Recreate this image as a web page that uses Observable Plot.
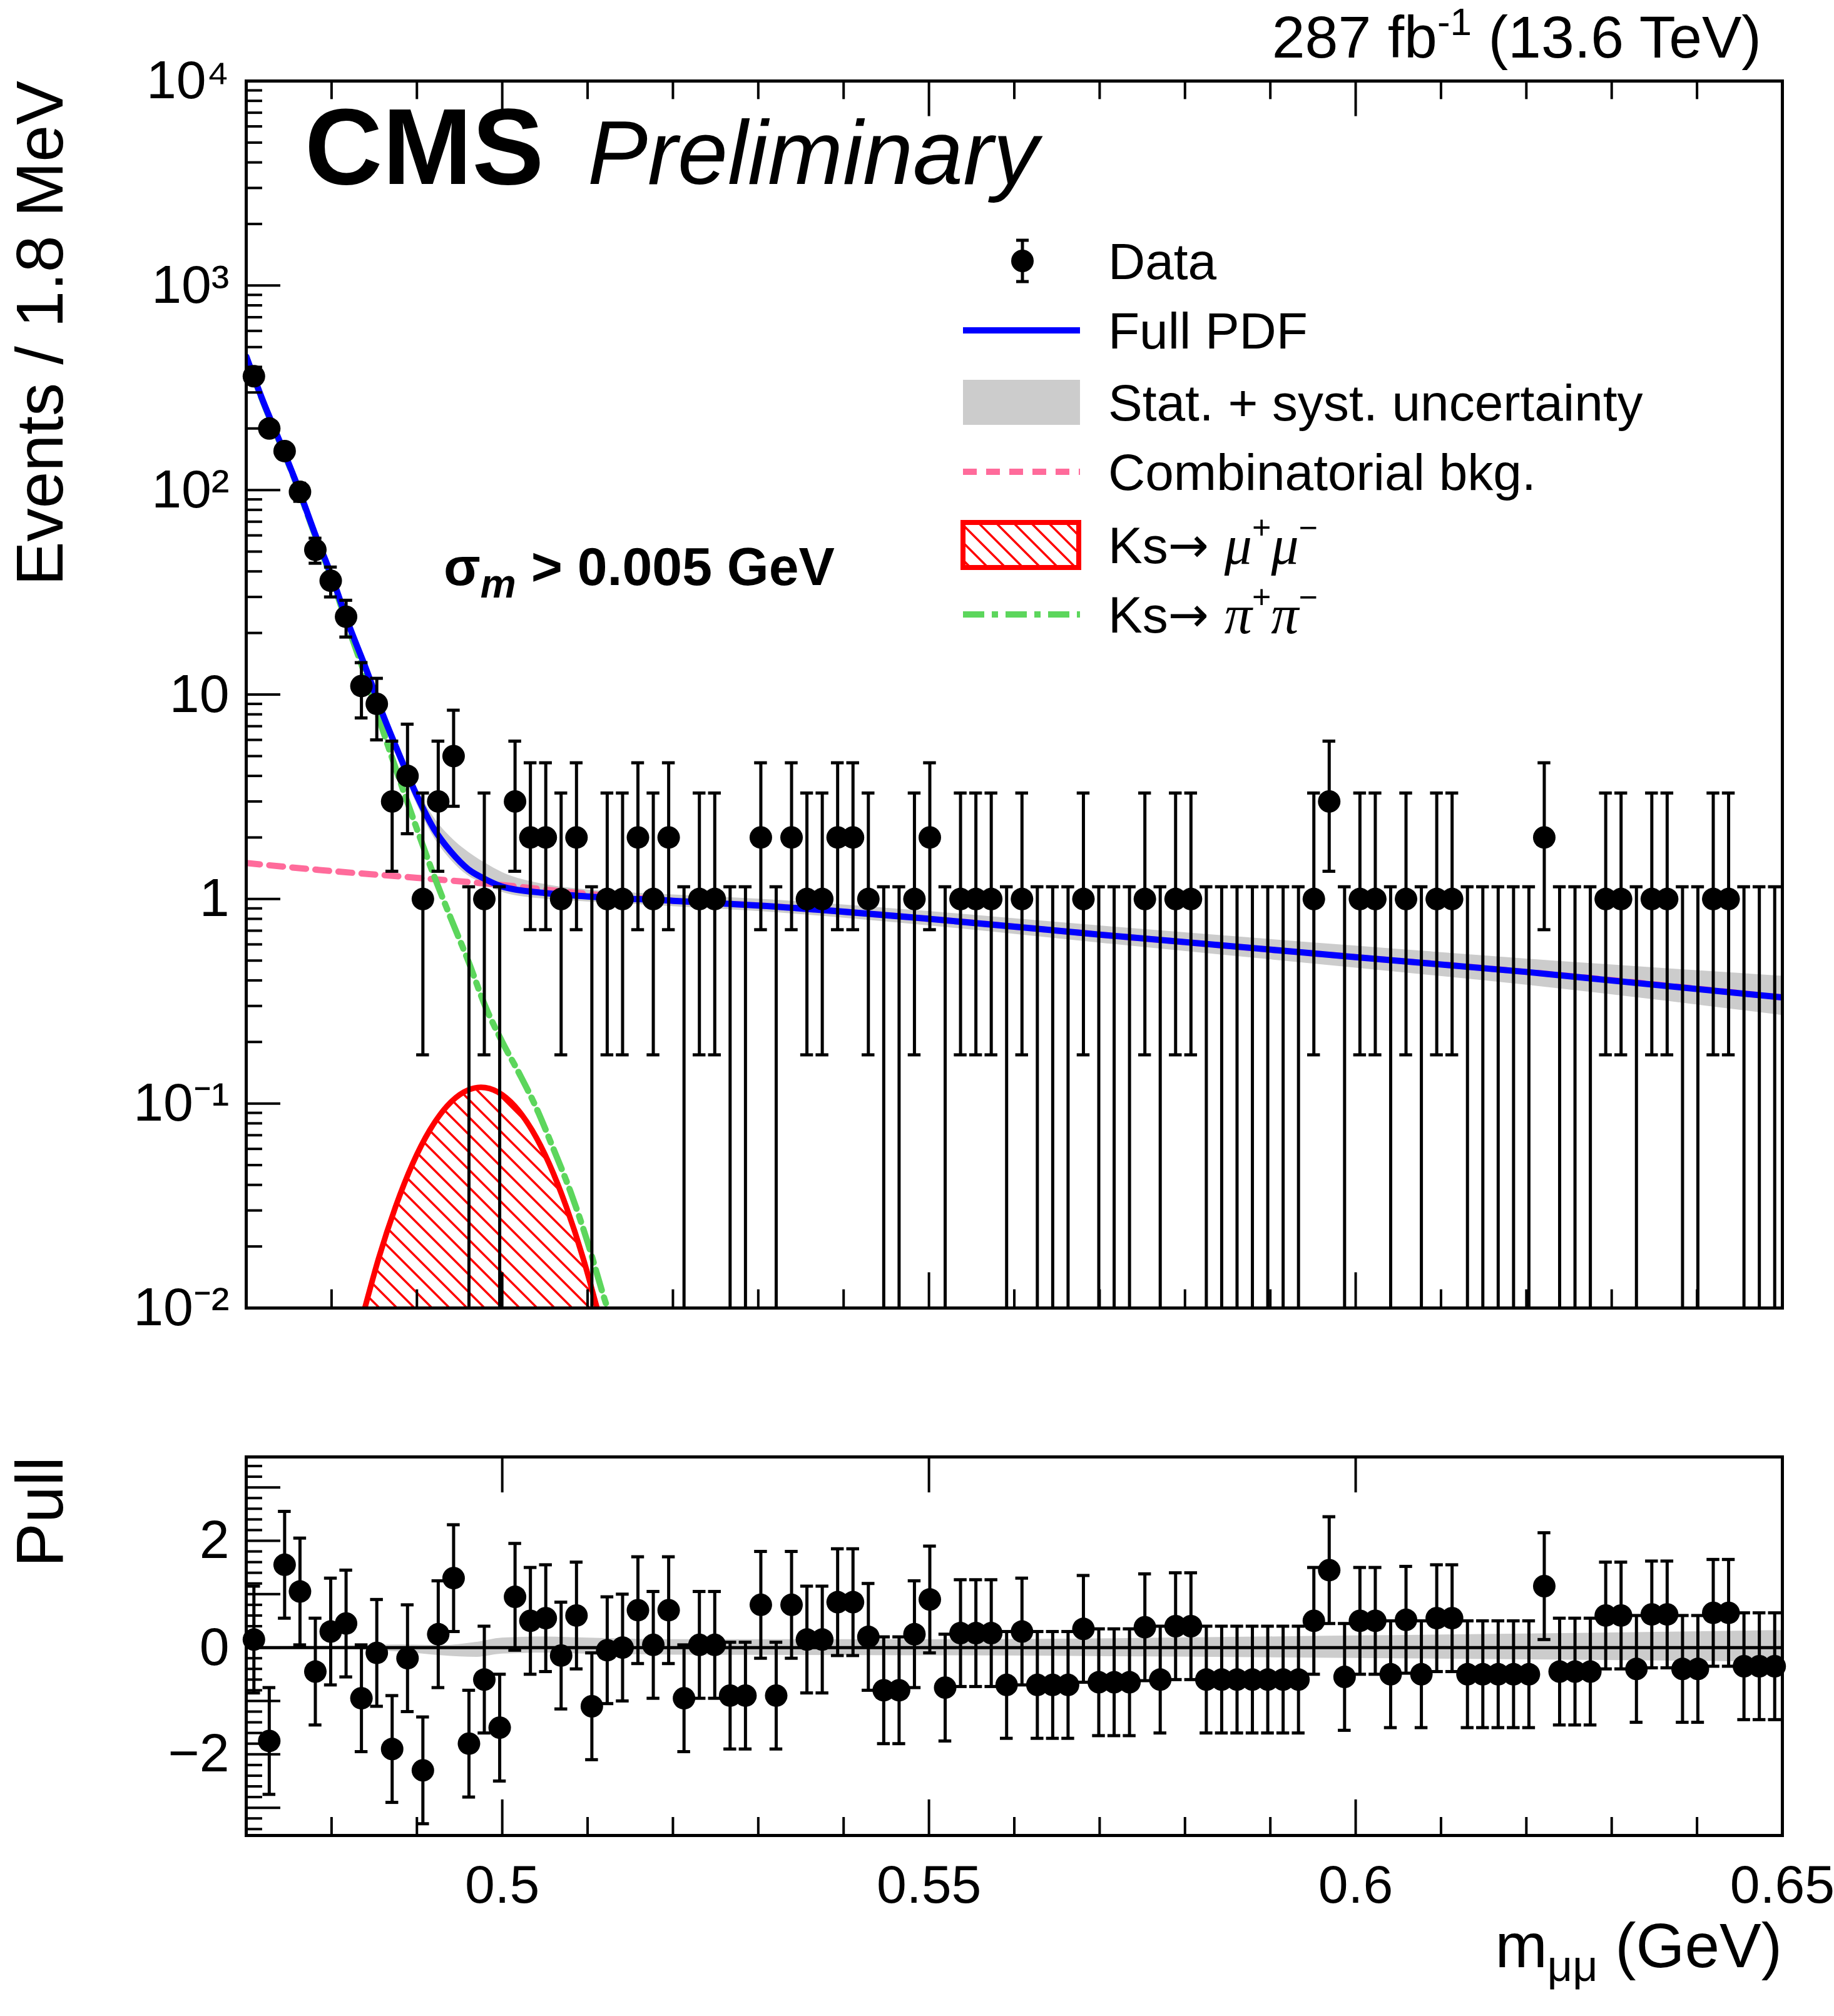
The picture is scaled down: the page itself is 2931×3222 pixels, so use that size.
<!DOCTYPE html>
<html>
<head>
<meta charset="utf-8">
<script src="https://cdn.jsdelivr.net/npm/d3@7"></script>
<script src="https://cdn.jsdelivr.net/npm/@observablehq/plot@0.6"></script>
<style>
  body { margin: 0; background: white; }
  #wrap { position: relative; width: 2931px; height: 3222px; background: white; font-family: "Liberation Sans", Arial, sans-serif; }
  #wrap > * { position: absolute; left: 0; }
</style>
</head>
<body>
<div id="wrap">
  <div id="main" style="top:0"></div>
  <div id="pull" style="top:2228px"></div>
</div>
<script>
// binning: 100 bins of 1.8 MeV from 0.47 to 0.65 GeV
const xMin = 0.47, binW = 0.0018;
const counts = [360,200,155,98,51,36,24,11,9,3, 4,1,3,5,0,1,0,3,2,2, 1,2,0,1,1,2,1,2,0,1,
  1,0,0,2,0,2,1,1,2,2, 1,0,0,1,2,0,1,1,1,0, 1,0,0,0,1,0,0,0,1,0,
  1,1,0,0,0,0,0,0,0,1, 3,0,1,1,0,1,0,1,1,0, 0,0,0,0,2,0,0,0,1,1,
  0,1,1,0,0,1,1,0,0,0];
const pulls = [0.15,-1.75,1.55,1.05,-0.45,0.3,0.45,-0.95,-0.1,-1.9, -0.2,-2.3,0.25,1.3,-1.8,-0.6,-1.5,0.95,0.5,0.55,
  -0.15,0.6,-1.1,-0.05,0.0,0.7,0.05,0.7,-0.95,0.05, 0.05,-0.9,-0.9,0.8,-0.9,0.8,0.15,0.15,0.85,0.85,
  0.2,-0.8,-0.8,0.25,0.9,-0.75,0.27,0.27,0.27,-0.7, 0.3,-0.7,-0.7,-0.7,0.35,-0.65,-0.65,-0.65,0.38,-0.6,
  0.4,0.4,-0.6,-0.6,-0.6,-0.6,-0.6,-0.6,-0.6,0.5, 1.45,-0.55,0.5,0.5,-0.5,0.52,-0.5,0.55,0.55,-0.5,
  -0.5,-0.5,-0.5,-0.5,1.15,-0.45,-0.45,-0.45,0.6,0.6, -0.4,0.62,0.62,-0.4,-0.4,0.65,0.65,-0.35,-0.35,-0.35];
// Poisson 68% intervals for small counts
const errLo = [0, 0.827, 1.292, 1.633, 1.914, 2.159];
const errHi = [1.148, 2.299, 2.637, 2.918, 3.162, 3.382];

// fit curves
const pdfX   = [0.470,0.472,0.474,0.476,0.478,0.480,0.482,0.484,0.486,0.488,0.490,0.492,0.494,0.496,0.498,0.500,0.505,0.510,0.520,0.530,0.550,0.570,0.600,0.620,0.650];
const pdfY   = [450,270,170,105,62,38,22,13.5,8,5,3.2,2.2,1.7,1.4,1.25,1.15,1.07,1.03,0.98,0.93,0.80,0.67,0.52,0.44,0.33];
const bandLo = [420,252,159,98,58,35.5,20.5,12.6,7.4,4.6,2.9,2.0,1.55,1.3,1.18,1.08,1.0,0.97,0.92,0.87,0.74,0.61,0.46,0.38,0.27];
const bandHi = [480,288,181,112,66,40.5,23.5,14.4,8.6,5.4,3.5,2.5,2.0,1.7,1.5,1.35,1.18,1.11,1.05,1.0,0.87,0.74,0.59,0.51,0.42];
const combX  = [0.47,0.48,0.49,0.50,0.51,0.52,0.53,0.55,0.57,0.60,0.62,0.65];
const combY  = [1.5,1.37,1.27,1.17,1.06,0.98,0.93,0.80,0.67,0.52,0.44,0.33];
const pipiX  = [0.470,0.472,0.474,0.476,0.478,0.480,0.482,0.484,0.486,0.488,0.490,0.492,0.494,0.496,0.498,0.500,0.502,0.504,0.506,0.508,0.510,0.512,0.5125];
const pipiY  = [448,268,168,104,61,37,21,12.2,6.7,3.8,2.2,1.3,0.8,0.5,0.3,0.2,0.14,0.095,0.06,0.037,0.021,0.011,0.0095];
const mumuX  = [0.4839,0.4855,0.4875,0.4895,0.4915,0.4935,0.4955,0.4975,0.4995,0.5015,0.5035,0.5055,0.5075,0.5095,0.5111];
const mumuY  = [0.01,0.0174,0.0313,0.0508,0.074,0.0968,0.1137,0.12,0.1137,0.0968,0.074,0.0508,0.0313,0.0174,0.01];
const pullBandX  = [0.47,0.48,0.488,0.493,0.497,0.50,0.505,0.51,0.52,0.55,0.60,0.65];
const pullBandLo = [-0.02,-0.03,-0.08,-0.15,-0.18,-0.12,-0.10,-0.12,-0.14,-0.15,-0.20,-0.27];
const pullBandHi = [0.02,0.03,0.05,0.04,0.10,0.18,0.20,0.18,0.15,0.15,0.22,0.32];

const decades = [1e-2,1e-1,1,10,100,1e3,1e4];
const decadeLabels = ["10⁻²","10⁻¹","1","10","10²","10³","10⁴"];

const bins = counts.map((n, i) => {
  const x = xMin + binW * (i + 0.5);
  const lo = n <= 5 ? n - errLo[n] : n - Math.sqrt(n);
  const hi = n <= 5 ? n + errHi[n] : n + Math.sqrt(n);
  return {x, n, lo: Math.max(lo, 0.01), hi, loCap: lo > 0.01, pull: pulls[i]};
});
const zip = (xs, ys) => xs.map((x, i) => ({x, y: ys[i]}));
const pdf = zip(pdfX, pdfY);
const band = pdfX.map((x, i) => ({x, lo: bandLo[i], hi: bandHi[i]}));
const pband = pullBandX.map((x, i) => ({x, lo: pullBandLo[i], hi: pullBandHi[i]}));
const minors = [];
for (let d = 0; d < 6; d++) for (let k = 2; k <= 9; k++) minors.push(decades[d] * k);
const xMajor = [0.5, 0.55, 0.6];
const xMinor = d3.range(48, 65).map(k => k / 100).filter(v => !xMajor.some(m => Math.abs(m - v) < 1e-9));
const font = "Liberation Sans, Arial, sans-serif";
const cap = 0.00075;
const lw = 5;

const mainPlot = Plot.plot({
  width: 2931, height: 2110,
  marginLeft: 393, marginRight: 83, marginTop: 129, marginBottom: 20,
  style: {fontFamily: font, background: "white", overflow: "visible"},
  x: {domain: [0.47, 0.65], axis: null},
  y: {type: "log", domain: [0.01, 1e4], axis: null},
  marks: [
    Plot.areaY(band, {x: "x", y1: "lo", y2: "hi", fill: "#cccccc", curve: "monotone-x", clip: true}),
    Plot.areaY(zip(mumuX, mumuY), {x: "x", y1: 0.01, y2: "y", fill: "url(#hatch)", curve: "monotone-x", clip: true}),
    Plot.line(zip(mumuX, mumuY), {x: "x", y: "y", stroke: "#ff0000", strokeWidth: 9, curve: "monotone-x", clip: true}),
    Plot.line(zip(combX, combY), {x: "x", y: "y", stroke: "#ff6b9b", strokeWidth: 10, strokeDasharray: "22,15", curve: "monotone-x", clip: true}),
    Plot.line(zip(pipiX, pipiY), {x: "x", y: "y", stroke: "#5cd65c", strokeWidth: 10, strokeDasharray: "34,12,10,12", curve: "monotone-x", clip: true}),
    Plot.line(pdf, {x: "x", y: "y", stroke: "#0000ff", strokeWidth: 10, curve: "monotone-x", clip: true}),
    Plot.ruleX(bins, {x: "x", y1: "lo", y2: "hi", stroke: "black", strokeWidth: lw, clip: true}),
    Plot.ruleY(bins, {y: "hi", x1: d => d.x - cap, x2: d => d.x + cap, stroke: "black", strokeWidth: lw}),
    Plot.ruleY(bins.filter(d => d.loCap), {y: "lo", x1: d => d.x - cap, x2: d => d.x + cap, stroke: "black", strokeWidth: lw}),
    Plot.dot(bins.filter(d => d.n > 0), {x: "x", y: "n", r: 18, fill: "black"}),
    // axis ticks (inside)
    Plot.ruleY(decades, {x1: 0.47, x2: 0.47 + 0.00403, stroke: "black", strokeWidth: 4}),
    Plot.ruleY(minors, {x1: 0.47, x2: 0.47 + 0.0019, stroke: "black", strokeWidth: 4}),
    Plot.ruleX(xMajor, {y1: 0.01, y2: 0.0149, stroke: "black", strokeWidth: 4}),
    Plot.ruleX(xMinor, {y1: 0.01, y2: 0.0123, stroke: "black", strokeWidth: 4}),
    Plot.ruleX(xMajor, {y1: 1e4, y2: 1e4 / 1.49, stroke: "black", strokeWidth: 4}),
    Plot.ruleX(xMinor, {y1: 1e4, y2: 1e4 / 1.23, stroke: "black", strokeWidth: 4}),
    Plot.frame({stroke: "black", strokeWidth: 5}),
    Plot.text(decades, {x: 0.47, y: d => d, text: (d, i) => decadeLabels[i], textAnchor: "end", dx: -27, fontSize: 86, fill: "black"})
  ]
});
document.getElementById("main").append(mainPlot);

const pullPlot = Plot.plot({
  width: 2931, height: 994,
  marginLeft: 393, marginRight: 83, marginTop: 100, marginBottom: 289,
  style: {fontFamily: font, background: "white", overflow: "visible"},
  x: {domain: [0.47, 0.65]},
  y: {domain: [-3.52, 3.57]},
  marks: [
    Plot.areaY(pband, {x: "x", y1: "lo", y2: "hi", fill: "#cccccc", curve: "monotone-x"}),
    Plot.ruleY([0], {stroke: "black", strokeWidth: 5}),
    Plot.ruleX(bins, {x: "x", y1: d => d.pull - 1, y2: d => d.pull + 1, stroke: "black", strokeWidth: lw}),
    Plot.ruleY(bins, {y: d => d.pull + 1, x1: d => d.x - cap, x2: d => d.x + cap, stroke: "black", strokeWidth: lw}),
    Plot.ruleY(bins, {y: d => d.pull - 1, x1: d => d.x - cap, x2: d => d.x + cap, stroke: "black", strokeWidth: lw}),
    Plot.dot(bins, {x: "x", y: "pull", r: 18, fill: "black"}),
    Plot.ruleY(d3.range(-3, 4), {x1: 0.47, x2: 0.47 + 0.00403, stroke: "black", strokeWidth: 4}),
    Plot.ruleY(d3.range(-17, 18).map(k => k / 5).filter(v => Math.abs(v - Math.round(v)) > 1e-9), {x1: 0.47, x2: 0.47 + 0.0019, stroke: "black", strokeWidth: 4}),
    Plot.ruleX(xMajor, {y1: -3.52, y2: -3.52 + 0.67, stroke: "black", strokeWidth: 4}),
    Plot.ruleX(xMinor, {y1: -3.52, y2: -3.52 + 0.34, stroke: "black", strokeWidth: 4}),
    Plot.ruleX(xMajor, {y1: 3.57, y2: 3.57 - 0.67, stroke: "black", strokeWidth: 4}),
    Plot.frame({stroke: "black", strokeWidth: 5}),
    Plot.axisY({ticks: [-2, 0, 2], tickFormat: d => d < 0 ? "−" + Math.abs(d) : String(d), tickSize: 0, tickPadding: 27, fontSize: 86}),
    Plot.axisX({ticks: [0.5, 0.55, 0.6, 0.65], tickFormat: d => String(d), tickSize: 0, tickPadding: 46, fontSize: 86, label: null})
  ]
});
document.getElementById("pull").append(pullPlot);

// overlay: labels, legend, hatch pattern
const ov = d3.select("#wrap").append("svg").attr("width", 2931).attr("height", 3222)
  .style("top", "0px").style("pointer-events", "none").style("font-family", font);
const pat = ov.append("defs").append("pattern").attr("id", "hatch")
  .attr("patternUnits", "userSpaceOnUse").attr("width", 28).attr("height", 28);
pat.append("path").attr("d", "M-7,-7 L35,35 M-7,21 L7,35 M21,-7 L35,7").attr("stroke", "#ff0000").attr("stroke-width", 3.5);

const txt = (x, y, s, opts = {}) => {
  const t = ov.append("text").attr("x", x).attr("y", y).attr("font-size", opts.size || 86)
    .attr("text-anchor", opts.anchor || "start").attr("fill", "black");
  if (opts.weight) t.attr("font-weight", opts.weight);
  if (opts.style) t.attr("font-style", opts.style);
  if (opts.rotate) t.attr("transform", `rotate(-90,${x},${y})`);
  if (opts.baseline) t.attr("dominant-baseline", opts.baseline);
  t.text(s);
  return t;
};
// lumi
const lumi = txt(2815, 92, "", {size: 95, anchor: "end"});
lumi.append("tspan").text("287 fb");
lumi.append("tspan").attr("dy", -36).attr("font-size", 62).text("-1");
lumi.append("tspan").attr("dy", 36).text(" (13.6 TeV)");
txt(487, 294, "CMS", {size: 172, weight: "bold"});
txt(939, 294, "Preliminary", {size: 144, style: "italic"});
const sig = txt(709, 935, "", {size: 86, weight: "bold"});
sig.append("tspan").text("σ");
sig.append("tspan").attr("dy", 20).attr("font-size", 64).attr("font-style", "italic").text("m");
sig.append("tspan").attr("dy", -20).text(" > 0.005 GeV");
txt(100, 129, "Events / 1.8 MeV", {size: 106, anchor: "end", rotate: true});
txt(100, 2328, "Pull", {size: 106, anchor: "end", rotate: true});
const xt = txt(2848, 3144, "", {size: 100, anchor: "end"});
xt.append("tspan").text("m");
xt.append("tspan").attr("dy", 22).attr("font-size", 70).text("μμ");
xt.append("tspan").attr("dy", -22).text(" (GeV)");

// legend
const lx = 1771, sx1 = 1539, sx2 = 1726;
const rows = [417, 528, 643, 754, 871, 982];
ov.append("line").attr("x1", 1634).attr("x2", 1634).attr("y1", rows[0] - 33).attr("y2", rows[0] + 33).attr("stroke", "black").attr("stroke-width", 5);
ov.append("line").attr("x1", 1624).attr("x2", 1644).attr("y1", rows[0] - 33).attr("y2", rows[0] - 33).attr("stroke", "black").attr("stroke-width", 5);
ov.append("line").attr("x1", 1624).attr("x2", 1644).attr("y1", rows[0] + 33).attr("y2", rows[0] + 33).attr("stroke", "black").attr("stroke-width", 5);
ov.append("circle").attr("cx", 1634).attr("cy", rows[0]).attr("r", 18).attr("fill", "black");
ov.append("line").attr("x1", sx1).attr("x2", sx2).attr("y1", rows[1]).attr("y2", rows[1]).attr("stroke", "#0000ff").attr("stroke-width", 10);
ov.append("rect").attr("x", sx1).attr("y", rows[2] - 36).attr("width", sx2 - sx1).attr("height", 72).attr("fill", "#cccccc");
ov.append("line").attr("x1", sx1).attr("x2", sx2).attr("y1", rows[3]).attr("y2", rows[3]).attr("stroke", "#ff6b9b").attr("stroke-width", 10).attr("stroke-dasharray", "22,15");
ov.append("rect").attr("x", 1539).attr("y", rows[4] - 36).attr("width", 185).attr("height", 72).attr("fill", "url(#hatch)").attr("stroke", "#ff0000").attr("stroke-width", 8);
ov.append("line").attr("x1", sx1).attr("x2", sx2).attr("y1", rows[5]).attr("y2", rows[5]).attr("stroke", "#5cd65c").attr("stroke-width", 10).attr("stroke-dasharray", "34,12,10,12");
const legText = ["Data", "Full PDF", "Stat. + syst. uncertainty", "Combinatorial bkg."];
legText.forEach((s, i) => txt(lx, rows[i], s, {size: 82, baseline: "central"}));
[["μ", "μ"], ["π", "π"]].forEach((p, k) => {
  const t = txt(lx, rows[4 + k], "", {size: 82, baseline: "central"});
  t.append("tspan").text("Ks");
  t.append("tspan").attr("font-family", "DejaVu Sans, sans-serif").attr("font-size", 78).text("→ ");
  t.append("tspan").attr("font-family", "Liberation Serif, serif").attr("font-style", "italic").attr("font-size", 88).text(p[0]);
  t.append("tspan").attr("dy", -28).attr("font-size", 52).text("+");
  t.append("tspan").attr("dy", 28).attr("font-family", "Liberation Serif, serif").attr("font-style", "italic").attr("font-size", 88).text(p[1]);
  t.append("tspan").attr("dy", -28).attr("font-size", 52).text("−");
});
</script>
</body>
</html>
